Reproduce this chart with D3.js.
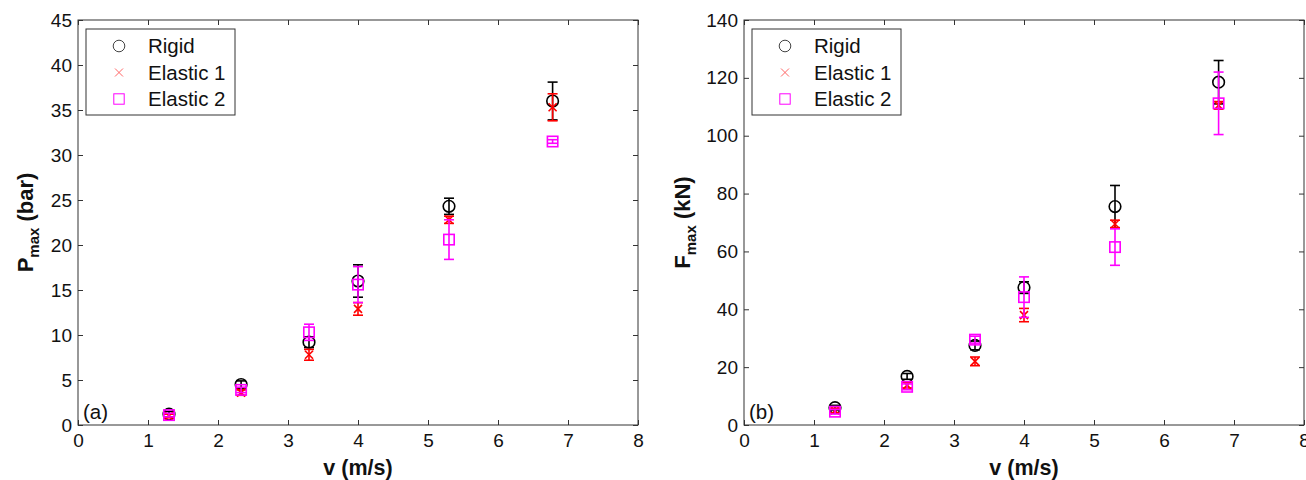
<!DOCTYPE html>
<html>
<head>
<meta charset="utf-8">
<script src="https://cdn.jsdelivr.net/npm/d3@7"></script>
<style>
  html, body { margin: 0; padding: 0; background: #fff; }
  svg { display: block; font-family: "Liberation Sans", Arial, sans-serif; }
</style>
</head>
<body>
<svg id="chart" width="1306" height="480"></svg>
<script>
// Impact velocities (m/s)
const velocity = [1.3, 2.33, 3.3, 4.0, 5.3, 6.78];
const seriesNames = ["Rigid", "Elastic 1", "Elastic 2"];

// (a) peak pressure, bar
const pRigid = [1.2, 4.5, 9.2, 16.0, 24.3, 36.0];
const pRigidErr = [0.3, 0.4, 0.6, 1.8, 0.9, 2.1];
const pElastic1 = [1.0, 3.6, 7.8, 12.9, 22.8, 35.3];
const pElastic1Err = [0.2, 0.3, 0.6, 0.7, 0.4, 1.5];
const pElastic2 = [1.1, 3.9, 10.3, 15.6, 20.6, 31.5];
const pElastic2Err = [0.2, 0.3, 0.9, 2.0, 2.2, 0.2];

// (b) peak force, kN
const fRigid = [6.0, 16.8, 27.5, 47.5, 75.5, 118.5];
const fRigidErr = [0.8, 1.0, 1.5, 2.0, 7.3, 7.5];
const fElastic1 = [5.0, 13.8, 22.0, 38.0, 69.5, 110.5];
const fElastic1Err = [0.8, 1.0, 1.5, 2.3, 1.3, 1.3];
const fElastic2 = [4.6, 13.2, 29.5, 44.2, 61.5, 111.2];
const fElastic2Err = [0.8, 1.0, 1.2, 7.0, 6.3, 10.8];

const xTicks = [0, 1, 2, 3, 4, 5, 6, 7, 8];
const pTicks = [0, 5, 10, 15, 20, 25, 30, 35, 40, 45];
const fTicks = [0, 20, 40, 60, 80, 100, 120, 140];

const colors = ["#000000", "#ff0000", "#ff00ff"];
const markers = ["circle", "cross", "square"];

const svg = d3.select("#chart");
const axisColor = "#333";
const tickFont = "19px";
const textFont = "20.5px";

function drawMarker(g, type, color, cx, cy, legend) {
  const sw = legend ? 1 : 1.6;
  if (type === "circle") {
    g.append("circle").attr("cx", cx).attr("cy", cy).attr("r", 5.8)
      .attr("fill", "none").attr("stroke", legend ? "#444" : color).attr("stroke-width", sw);
  } else if (type === "cross") {
    const s = 4;
    g.append("path")
      .attr("d", `M${cx - s},${cy - s}L${cx + s},${cy + s}M${cx - s},${cy + s}L${cx + s},${cy - s}`)
      .attr("stroke", legend ? "#ff6666" : color).attr("stroke-width", sw).attr("fill", "none");
  } else {
    const s = 5.2;
    g.append("rect").attr("x", cx - s).attr("y", cy - s).attr("width", 2 * s).attr("height", 2 * s)
      .attr("fill", "none").attr("stroke", color).attr("stroke-width", sw);
  }
}

function panel(opts) {
  const { left, right, top, bottom, yMax, yTicks, series, yLabel, yLabelX, tag } = opts;
  const g = svg.append("g");
  const x = d3.scaleLinear().domain([0, 8]).range([left, right]);
  const y = d3.scaleLinear().domain([0, yMax]).range([bottom, top]);

  // data: error bars then markers
  series.forEach((s, i) => {
    const sg = g.append("g");
    velocity.forEach((v, k) => {
      const cx = x(v), val = s.values[k], e = s.err[k];
      const y1 = y(val - e), y2 = y(val + e);
      const cap = 5;
      sg.append("line").attr("x1", cx).attr("x2", cx).attr("y1", y1).attr("y2", y2)
        .attr("stroke", colors[i]).attr("stroke-width", 1.6);
      [y1, y2].forEach(yy => sg.append("line")
        .attr("x1", cx - cap).attr("x2", cx + cap).attr("y1", yy).attr("y2", yy)
        .attr("stroke", colors[i]).attr("stroke-width", 1.6));
      drawMarker(sg, markers[i], colors[i], cx, y(val), false);
    });
  });

  // axes box
  g.append("rect").attr("x", left).attr("y", top).attr("width", right - left).attr("height", bottom - top)
    .attr("fill", "none").attr("stroke", axisColor).attr("stroke-width", 1);

  const tl = 5;
  const xb = g.append("g").attr("transform", `translate(0,${bottom})`)
    .call(d3.axisBottom(x).tickValues(xTicks).tickSize(-tl).tickPadding(8).tickFormat(d3.format("d")));
  const xt = g.append("g").attr("transform", `translate(0,${top})`)
    .call(d3.axisTop(x).tickValues(xTicks).tickSize(-tl).tickFormat(""));
  const yl = g.append("g").attr("transform", `translate(${left},0)`)
    .call(d3.axisLeft(y).tickValues(yTicks).tickSize(-tl).tickPadding(6).tickFormat(d3.format("d")));
  const yr = g.append("g").attr("transform", `translate(${right},0)`)
    .call(d3.axisRight(y).tickValues(yTicks).tickSize(-tl).tickFormat(""));
  [xb, xt, yl, yr].forEach(a => {
    a.select(".domain").remove();
    a.selectAll("line").attr("stroke", axisColor);
    a.selectAll("text").attr("fill", "#111").style("font-size", tickFont)
      .style("font-family", '"Liberation Sans", Arial, sans-serif');
  });
  xb.selectAll("text").attr("dy", "0.72em");

  // x label
  g.append("text").attr("x", (left + right) / 2).attr("y", bottom + 50)
    .attr("text-anchor", "middle").style("font-size", "21.5px").style("font-weight", "bold")
    .attr("fill", "#111").text("v (m/s)");

  // y label with subscript
  const yt = g.append("text")
    .attr("transform", `translate(${yLabelX},${(top + bottom) / 2}) rotate(-90)`)
    .attr("text-anchor", "middle").style("font-weight", "bold").attr("fill", "#111");
  yt.append("tspan").style("font-size", "22px").text(yLabel[0]);
  yt.append("tspan").style("font-size", "15px").attr("dy", "6").text(yLabel[1]);
  yt.append("tspan").style("font-size", "22px").attr("dy", "-6").text(" " + yLabel[2]);

  // panel tag
  g.append("text").attr("x", left + 5).attr("y", bottom - 6).style("font-size", textFont)
    .attr("fill", "#111").text(tag);

  // legend
  const lx = left + 8, ly = top + 9, lw = 149, lh = 86;
  const lg = g.append("g");
  lg.append("rect").attr("x", lx).attr("y", ly).attr("width", lw).attr("height", lh)
    .attr("fill", "#fff").attr("stroke", axisColor).attr("stroke-width", 1);
  seriesNames.forEach((name, i) => {
    const ry = ly + 17 + i * 26.5;
    drawMarker(lg, markers[i], colors[i], lx + 33, ry, true);
    lg.append("text").attr("x", lx + 62).attr("y", ry).attr("dy", "0.36em")
      .style("font-size", textFont).attr("fill", "#111").text(name);
  });
}

panel({
  left: 78, right: 638, top: 20, bottom: 425, yMax: 45, yTicks: pTicks,
  series: [
    { values: pRigid, err: pRigidErr },
    { values: pElastic1, err: pElastic1Err },
    { values: pElastic2, err: pElastic2Err }
  ],
  yLabel: ["P", "max", "(bar)"], yLabelX: 33, tag: "(a)"
});

panel({
  left: 744, right: 1304, top: 20, bottom: 425, yMax: 140, yTicks: fTicks,
  series: [
    { values: fRigid, err: fRigidErr },
    { values: fElastic1, err: fElastic1Err },
    { values: fElastic2, err: fElastic2Err }
  ],
  yLabel: ["F", "max", "(kN)"], yLabelX: 690, tag: "(b)"
});
</script>
</body>
</html>
